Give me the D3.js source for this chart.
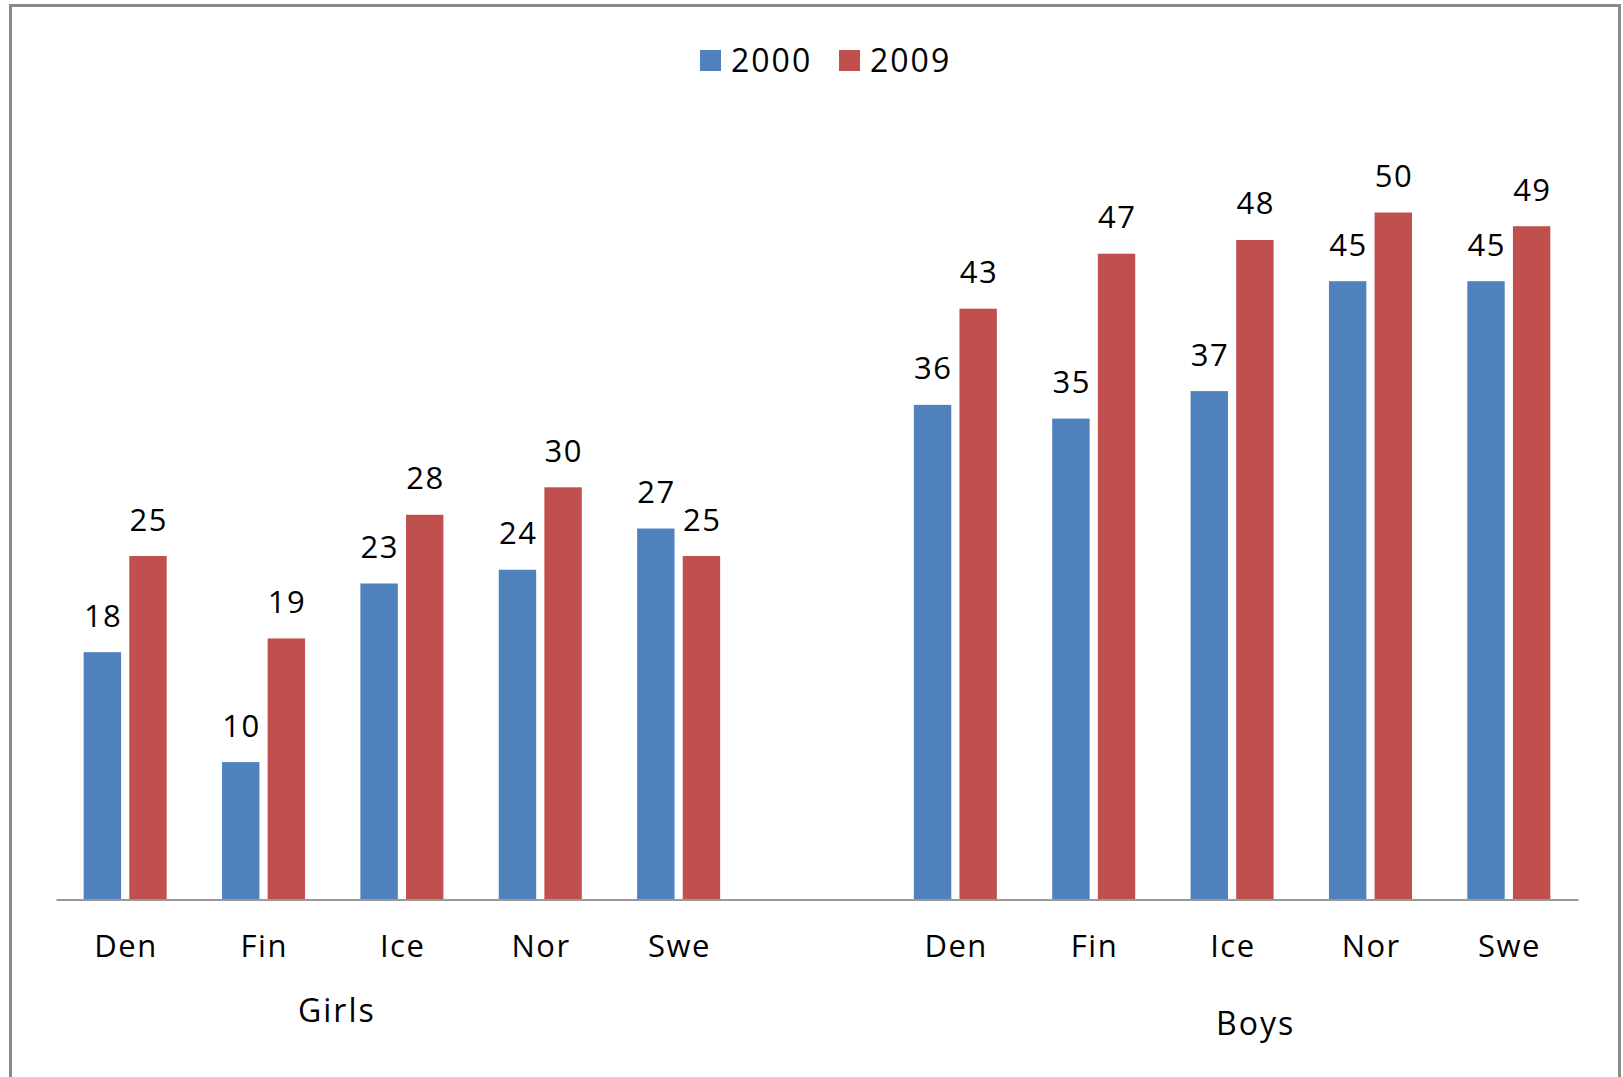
<!DOCTYPE html>
<html><head><meta charset="utf-8">
<script src="https://cdn.jsdelivr.net/npm/d3@7"></script>
<style>
html,body{margin:0;padding:0;background:#fff;}
svg{display:block;}
text{font-family:"Open Sans",sans-serif;fill:#000;}
</style></head>
<body>
<svg id="chart" width="1623" height="1077"></svg>
<script>
const groups = ["Girls", "Boys"];
const countries = ["Den", "Fin", "Ice", "Nor", "Swe"];
const seriesNames = ["2000", "2009"];
const colors = ["#4F81BD", "#C0504D"];
const girls2000 = [18, 10, 23, 24, 27];
const girls2009 = [25, 19, 28, 30, 25];
const boys2000 = [36, 35, 37, 45, 45];
const boys2009 = [43, 47, 48, 50, 49];

const W = 1623, H = 1077;
const svg = d3.select("#chart");

// slots: 5 girls, 1 empty gap, 5 boys
const slots = [];
countries.forEach(c => slots.push("Girls|" + c));
slots.push("gap");
countries.forEach(c => slots.push("Boys|" + c));

const rows = [];
countries.forEach((c, i) => {
  rows.push({slot: "Girls|" + c, country: c, group: "Girls", vals: [girls2000[i], girls2009[i]]});
});
countries.forEach((c, i) => {
  rows.push({slot: "Boys|" + c, country: c, group: "Boys", vals: [boys2000[i], boys2009[i]]});
});

const x = d3.scaleBand().domain(slots).range([56, 1578]).padding(0);
const bw = x.bandwidth();
const xs = d3.scaleBand().domain(seriesNames).range([bw * 0.2, bw * 0.8]).paddingInner(0.18).paddingOuter(0);
const y = d3.scaleLinear().domain([0, 50]).range([899.5, 212.5]);

// outer border
svg.append("rect").attr("x", 10.5).attr("y", 5.5).attr("width", 1609).attr("height", 1090)
  .attr("fill", "none").attr("stroke", "#8a8a8a").attr("stroke-width", 3);

// bars
const g = svg.selectAll("g.cat").data(rows).enter().append("g")
  .attr("class", "cat").attr("transform", d => `translate(${x(d.slot)},0)`);

g.selectAll("rect").data(d => d.vals.map((v, i) => ({v, s: seriesNames[i], i})))
  .enter().append("rect")
  .attr("x", d => xs(d.s))
  .attr("width", xs.bandwidth())
  .attr("y", d => y(d.v))
  .attr("height", d => y(0) - y(d.v))
  .attr("fill", d => colors[d.i]);

g.selectAll("text.val").data(d => d.vals.map((v, i) => ({v, s: seriesNames[i], i})))
  .enter().append("text").attr("class", "val")
  .attr("x", d => xs(d.s) + xs.bandwidth() / 2 + 0.75)
  .attr("y", d => y(d.v) - 25.5)
  .attr("text-anchor", "middle")
  .style("font-size", "31px").style("letter-spacing", "1.5px")
  .text(d => d.v);

// axis line
const axis = d3.axisBottom(x).tickSize(0).tickFormat(d => d === "gap" ? "" : d.split("|")[1]);
const ax = svg.append("g").attr("transform", `translate(0,${y(0)})`).call(axis);
ax.select(".domain").attr("stroke", "#999").attr("stroke-width", 2);
ax.selectAll(".tick text")
  .attr("dy", null).attr("y", 57.5).attr("x", 0.75)
  .style("font-size", "31px").style("letter-spacing", "1.5px")
  .style("font-family", "'Open Sans',sans-serif").attr("fill", "#000");

// group labels
const girlsX = x("Girls|Ice") + bw * 0.03;
const boysX = x("Boys|Ice") + bw * 0.67;
svg.append("text").attr("x", girlsX).attr("y", 1022).attr("text-anchor", "middle")
  .style("font-size", "32px").style("letter-spacing", "2px").text(groups[0]);
svg.append("text").attr("x", boysX).attr("y", 1035).attr("text-anchor", "middle")
  .style("font-size", "32px").style("letter-spacing", "2px").text(groups[1]);

// legend
const legX = [700, 839];
const lg = svg.selectAll("g.leg").data(seriesNames).enter().append("g")
  .attr("class", "leg").attr("transform", (d, i) => `translate(${legX[i]},50)`);
lg.append("rect").attr("width", 21).attr("height", 21).attr("fill", (d, i) => colors[i]);
lg.append("text").attr("x", 31).attr("y", 21.5).style("font-size", "32px").style("letter-spacing", "2px").text(d => d);
</script>
</body></html>
